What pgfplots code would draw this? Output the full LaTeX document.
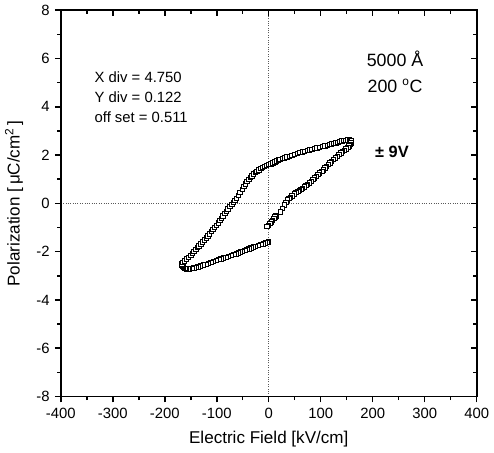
\documentclass[border=0pt]{standalone}
\usepackage{fontspec}
\setmainfont{Liberation Sans}
\usepackage{pgfplots}
\pgfplotsset{compat=1.18}

\begin{document}
\begin{tikzpicture}
\pgfplotsset{
  peaxis/.style={
    scale only axis,
    width=9.85cm, height=9.15cm,
    xmin=-400, xmax=400, ymin=-8, ymax=8,
    xtick={-400,-300,...,400}, ytick={-8,-6,...,8},
    minor xtick={-350,-250,...,350}, minor ytick={-7,-5,...,7},
    axis line style={line width=1.3pt},
    major tick length=4pt, minor tick length=2.5pt,
    every tick/.style={black, line width=1pt},
  }
}
\begin{axis}[
  peaxis,
  tick align=outside,
  xtick pos=bottom, ytick pos=left,
  /pgf/number format/assume math mode=true,
  tick label style={font=\fontsize{10}{12}\selectfont},
  xlabel={Electric Field [kV/cm]},
  ylabel={Polarization [\,μC/cm\textsuperscript{2}\,]},
  label style={font=\fontsize{11.5}{13}\selectfont},
  xlabel style={yshift=-2pt},
  ylabel style={yshift=2pt},
]
\draw[densely dotted, gray!70!black, line width=0.6pt] (axis cs:0,-8) -- (axis cs:0,8);
\draw[densely dotted, gray!70!black, line width=0.6pt] (axis cs:-400,0) -- (axis cs:400,0);

\addplot[only marks, mark=square*, mark size=1.5pt, black,
  mark options={fill=white, line width=0.65pt}] coordinates {
(0,-1.60) (-2,-1.62) (-6,-1.65) (-10,-1.68) (-15,-1.71) (-20,-1.75) (-25,-1.78)
(-29,-1.81) (-34,-1.85) (-38,-1.89) (-42,-1.92) (-46,-1.96) (-50,-1.99)
(-54,-2.02) (-58,-2.05) (-62,-2.09) (-67,-2.12) (-72,-2.16) (-77,-2.19)
(-82,-2.23) (-87,-2.26) (-92,-2.30) (-96,-2.33) (-101,-2.37) (-106,-2.40)
(-111,-2.44) (-116,-2.48) (-121,-2.52) (-126,-2.56) (-131,-2.60) (-136,-2.63)
(-140,-2.65) (-144,-2.67) (-148,-2.69) (-152,-2.71) (-155,-2.72) (-158,-2.71)
(-161,-2.70) (-164,-2.66) (-166,-2.62) (-167,-2.56) (-167,-2.51)
(-165,-2.44) (-162,-2.38) (-158,-2.30) (-154,-2.23) (-150,-2.15) (-147,-2.07)
(-144,-1.99) (-140,-1.91) (-137,-1.83) (-134,-1.76) (-130,-1.68) (-127,-1.60)
(-124,-1.52) (-120,-1.43) (-117,-1.35) (-114,-1.26) (-110,-1.17) (-107,-1.08)
(-104,-1.00) (-101,-0.91) (-97,-0.82) (-94,-0.72) (-91,-0.62) (-88,-0.52)
(-84,-0.42) (-81,-0.33) (-78,-0.23) (-75,-0.14) (-71,-0.05) (-68,0.04)
(-65,0.12) (-62,0.21) (-58,0.33) (-55,0.45) (-51,0.57) (-48,0.69) (-45,0.80)
(-42,0.91) (-38,0.99) (-35,1.07) (-32,1.14) (-29,1.21) (-26,1.27) (-23,1.33)
(-19,1.39) (-15,1.44) (-12,1.48) (-8,1.52) (-4,1.56) (0,1.60) (4,1.64) (8,1.68)
(12,1.72) (15,1.75) (19,1.79) (22,1.82) (26,1.85) (30,1.88) (35,1.92)
(40,1.95) (45,1.99) (50,2.03) (55,2.07) (60,2.10) (65,2.13) (69,2.16)
(74,2.19) (78,2.21) (83,2.24) (88,2.27) (93,2.30) (98,2.32) (103,2.35)
(108,2.37) (113,2.40) (117,2.43) (121,2.46) (125,2.48) (129,2.51) (133,2.53)
(137,2.56) (141,2.58) (145,2.60) (149,2.61) (152,2.62) (155,2.62) (158,2.61)
(159,2.58) (158,2.51)
(156,2.45) (154,2.37) (152,2.31) (149,2.26) (146,2.20) (142,2.14) (139,2.08)
(135,2.02) (132,1.95) (128,1.88) (125,1.81) (121,1.74) (118,1.67) (115,1.60)
(111,1.53) (108,1.46) (105,1.39) (102,1.33) (98,1.26) (95,1.19) (92,1.12)
(88,1.05) (85,0.98) (82,0.91) (78,0.85) (75,0.79) (72,0.73) (69,0.67)
(65,0.62) (62,0.57) (59,0.53) (56,0.49) (52,0.44) (49,0.38) (45,0.31)
(42,0.25) (39,0.20) (36,0.14) (33,0.04) (30,-0.07) (26,-0.21) (23,-0.35)
(14,-0.52) (12,-0.57) (10,-0.63) (7,-0.70) (5,-0.77) (2,-0.84) (0,-0.91) (-3,-0.95)
};

\node[anchor=west, align=left, font=\fontsize{10}{13.5}\selectfont] at (axis cs:-345,4.4)
  {X div = 4.750\\Y div = 0.122\\off set = 0.511};
\node[align=center, font=\fontsize{12}{17}\selectfont] at (axis cs:243,5.45)
  {5000 Å\\200 \textsuperscript{o}C};
\node[font=\fontsize{11}{13}\selectfont\bfseries] at (axis cs:237,2.15) {± 9V};
\end{axis}
\begin{axis}[
  peaxis,
  tick align=inside,
  xtick pos=top, ytick pos=right,
  xticklabels={}, yticklabels={},
]
\end{axis}
\end{tikzpicture}
\end{document}
